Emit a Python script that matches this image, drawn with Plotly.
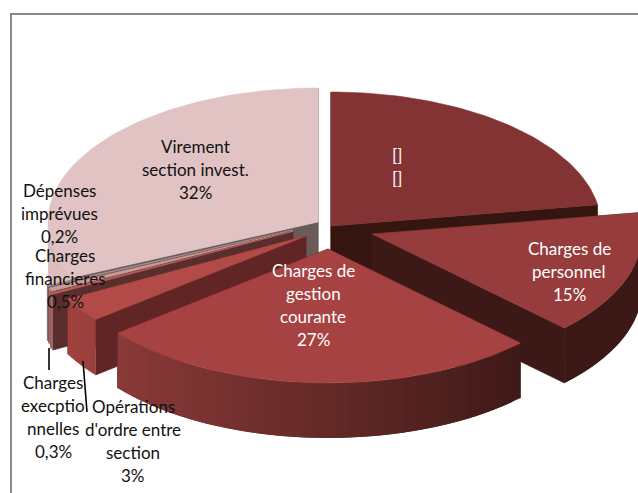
import numpy as np
import plotly.graph_objects as go

# ---- data ----
categories = ["[]", "Charges de personnel", "Charges de gestion courante",
              "Opérations d'ordre entre section", "Charges excecptionnelles",
              "Charges financieres", "Dépenses imprévues", "Virement section invest."]
values = [22.6, 15, 27, 3, 0.3, 0.5, 0.2, 32]

label_lines = [
    ["[]", "[]"],
    ["Charges de", "personnel", "15%"],
    ["Charges de", "gestion", "courante", "27%"],
    ["Opérations", "d'ordre entre", "section", "3%"],
    ["Charges", "execptio", "nnelles", "0,3%"],
    ["Charges", "financieres", "0,5%"],
    ["Dépenses", "imprévues", "0,2%"],
    ["Virement", "section invest.", "32%"],
]

# ---- styles / layout ----
apex = [(331, 226), (372, 234), (328, 249), (306, 236), (291, 232), (293, 231), (293, 230), (318, 222)]
top_col = ["#833333", "#963c3c", "#a64242", "#b24b48", "#b5605d", "#c99a98", "#a89090", "#e1c3c3"]
face_col = ["#35150f", "#3c1816", "#3c1816", "#612525", "#5a2e2c", "#5a2e2c", "#6b5a5a", "#6b5a5a"]
wall_l = ["#35150f", "#3c1816", "#8a3a38", "#a2433f", "#b07472", "#b07472", "#b07472", "#dcbebe"]
wall_r = ["#35150f", "#3c1816", "#3f1a18", "#9a3f3c", "#b07472", "#b07472", "#b07472", "#dcbebe"]
label_pos = [(397, 155), (569, 248), (313, 270), (133, 406), (53, 382), (65, 255), (59, 190), (195, 146)]
label_col = ["white", "white", "white", "#111", "#111", "#111", "#111", "#111"]
RX, RY, DEPTH = 270, 134, 55
LINE_H = 23.2

bounds = np.concatenate([[0], np.cumsum(values)]) / np.sum(values) * 2 * np.pi


def arc(a0, a1, c, n=40):
    t = np.linspace(a0, a1, n)
    return c[0] + RX * np.sin(t), c[1] - RY * np.cos(t)


def poly(x, y, col, lw=0.6):
    return go.Scatter(x=list(x), y=list(y), mode="lines", fill="toself", fillcolor=col,
                      line=dict(color=col, width=lw), hoverinfo="skip", showlegend=False)


def mix(c0, c1, f):
    a = [int(c0[i:i + 2], 16) for i in (1, 3, 5)]
    b = [int(c1[i:i + 2], 16) for i in (1, 3, 5)]
    return "rgb(%d,%d,%d)" % tuple(round(u + (v - u) * f) for u, v in zip(a, b))


fig = go.Figure()
for i in [7, 6, 5, 4, 3, 0, 1, 2]:
    a0, a1, c = bounds[i], bounds[i + 1], apex[i]
    # straight cut faces
    for a in (a0, a1):
        ex, ey = arc(a, a, c, 1)
        fig.add_trace(poly([c[0], ex[0], ex[0], c[0], c[0]],
                           [c[1], ey[0], ey[0] + DEPTH, c[1] + DEPTH, c[1]], face_col[i]))
    # outer wall, in short strips so its shade can run from left to right
    n = 41
    ang = np.linspace(a0, a1, n)
    ax, ay = arc(a0, a1, c, n)
    lo, hi = ax.min(), max(ax.max(), ax.min() + 1)
    if i != 0:
        for k in range(n - 1):
            if np.cos(ang[k]) > 0.05:
                continue
            # each strip runs on a little under the next one, so no seams show
            e = min(k + 2, n - 1)
            f = ((ax[k] + ax[k + 1]) / 2 - lo) / (hi - lo)
            fig.add_trace(poly([ax[k], ax[e], ax[e], ax[k], ax[k]],
                               [ay[k], ay[e], ay[e] + DEPTH, ay[k] + DEPTH, ay[k]],
                               mix(wall_l[i], wall_r[i], f), lw=0))
    # top surface
    tx, ty = arc(a0, a1, c, 60)
    fig.add_trace(poly(np.r_[c[0], tx, c[0]], np.r_[c[1], ty, c[1]], top_col[i]))

# leader lines
for lx, ly in [([49, 49], [348, 370]), ([83, 87], [361, 412])]:
    fig.add_trace(go.Scatter(x=lx, y=ly, mode="lines", line=dict(color="black", width=1.6),
                             hoverinfo="skip", showlegend=False))

ann = []
for lines, (px, py), col in zip(label_lines, label_pos, label_col):
    for j, txt in enumerate(lines):
        ann.append(dict(x=px, y=py + j * LINE_H, text=txt, showarrow=False, xref="x", yref="y",
                        xanchor="center", yanchor="middle",
                        font=dict(family="Lato", size=17, color=col)))

fig.update_layout(
    width=638, height=493, margin=dict(l=0, r=0, t=0, b=0),
    paper_bgcolor="white", plot_bgcolor="white", showlegend=False, annotations=ann,
    xaxis=dict(range=[0, 638], visible=False, fixedrange=True),
    yaxis=dict(range=[493, 0], visible=False, fixedrange=True),
    shapes=[
        dict(type="line", xref="x", yref="y", x0=11, x1=638, y0=14, y1=14, line=dict(color="#8a8a8a", width=2)),
        dict(type="line", xref="x", yref="y", x0=11, x1=11, y0=13, y1=493, line=dict(color="#8a8a8a", width=2)),
    ],
)
fig.write_html("out.html", config=dict(displayModeBar=False),
               post_script="document.body.style.margin='0';document.documentElement.style.overflow='hidden';")
